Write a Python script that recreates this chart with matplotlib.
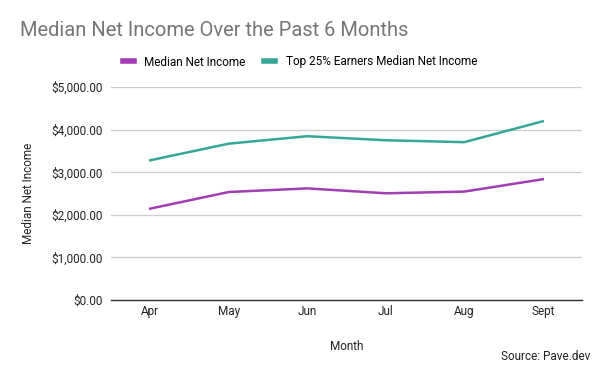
import matplotlib.pyplot as plt
from matplotlib.ticker import FuncFormatter

plt.rcParams["font.family"] = ["Roboto", "DejaVu Sans"]

months = ["Apr", "May", "Jun", "Jul", "Aug", "Sept"]
median_income = [2145, 2535, 2620, 2505, 2545, 2835]
top25_income = [3280, 3670, 3845, 3750, 3705, 4195]

purple = "#a23db3"
teal = "#36a697"

fig = plt.figure(figsize=(6, 3.71), dpi=100)
# axes placed in figure fractions (left 111px, right 582px, top 87px, bottom 300px)
ax = fig.add_axes([111 / 600, 1 - 300 / 371, 471 / 600, 213 / 371])

x = range(len(months))
ax.plot(x, median_income, color=purple, lw=1.8, label="Median Net Income")
ax.plot(x, top25_income, color=teal, lw=1.8, label="Top 25% Earners Median Net Income")

ax.set_xlim(-0.5, len(months) - 0.5)
ax.set_ylim(0, 5000)
ax.set_yticks([0, 1000, 2000, 3000, 4000, 5000])
ax.yaxis.set_major_formatter(FuncFormatter(lambda v, _: f"${v:,.2f}"))
ax.set_xticks(list(x))
ax.set_xticklabels(months)

ax.grid(axis="y", color="#cccccc", lw=0.9)
ax.set_axisbelow(True)
for s in ["top", "right", "left"]:
    ax.spines[s].set_visible(False)
ax.spines["bottom"].set_color("#333333")
ax.spines["bottom"].set_linewidth(1.0)
ax.tick_params(axis="both", length=0, labelsize=8.5, colors="#222222")
ax.tick_params(axis="y", pad=6)
ax.tick_params(axis="x", pad=3.5)

ax.set_ylabel("Median Net Income", fontsize=8.5, color="#222222", labelpad=11.5)
ax.set_xlabel("Month", fontsize=8.5, color="#222222", labelpad=16)

fig.text(20 / 600, 1 - 31 / 371, "Median Net Income Over the Past 6 Months",
         fontsize=14.5, color="#757575", va="center", ha="left")
fig.text(590 / 600, 1 - 357 / 371, "Source: Pave.dev", fontsize=8.5,
         color="#222222", ha="right", va="center")

fig.legend(loc="center", bbox_to_anchor=(300 / 600, 1 - 62 / 371), ncol=2,
           frameon=False, fontsize=8.5, handlelength=0.9, handletextpad=0.9,
           columnspacing=1.6)
for line in fig.legends[0].get_lines():
    line.set_linewidth(4)

fig.savefig("out.png", dpi=100)
